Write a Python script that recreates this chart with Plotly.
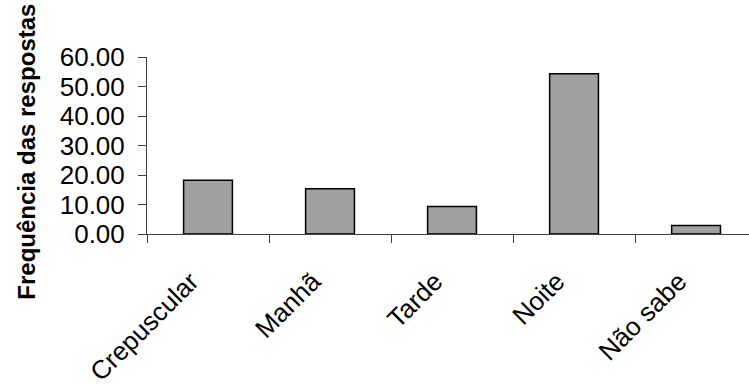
import plotly.graph_objects as go

# Período de atividade indicado nas respostas (%)
categorias = ["Crepuscular", "Manhã", "Tarde", "Noite", "Não sabe"]
frequencias = [18.2, 15.3, 9.3, 54.3, 2.9]
y_ticks = [0, 10, 20, 30, 40, 50, 60]

fig = go.Figure(
    go.Bar(
        x=categorias,
        y=frequencias,
        marker=dict(color="#A0A0A0", line=dict(color="#000000", width=1.5)),
    )
)

font_family = "Liberation Sans, Arial, sans-serif"

fig.update_layout(
    width=749,
    height=384,
    margin=dict(l=147, r=0, t=57, b=150),
    paper_bgcolor="white",
    plot_bgcolor="white",
    bargap=0.6,
    showlegend=False,
    font=dict(family=font_family, size=24, color="#000000"),
    xaxis=dict(
        type="category",
        range=[-0.5, 4.434],
        automargin=False,
        showline=True,
        linecolor="#404040",
        linewidth=1,
        ticks="outside",
        tickson="boundaries",
        ticklen=8,
        tickcolor="#404040",
        tickangle=-45,
        ticklabelstandoff=21,
        ticklabelshift=-17,
        showgrid=False,
        zeroline=False,
        tickfont=dict(size=26),
    ),
    yaxis=dict(
        range=[0, 60],
        tickvals=y_ticks,
        tickformat=".2f",
        automargin=False,
        showline=True,
        linecolor="#404040",
        linewidth=1,
        ticks="outside",
        ticklen=8,
        tickcolor="#404040",
        ticklabelstandoff=8,
        showgrid=False,
        zeroline=False,
        tickfont=dict(size=26),
    ),
    annotations=[
        dict(
            text="<b>Frequência das respostas</b>",
            textangle=-90,
            xref="paper",
            yref="paper",
            x=(27 - 147) / 602,
            y=(234.3 - 152) / 177,
            xanchor="center",
            yanchor="middle",
            showarrow=False,
            font=dict(family=font_family, size=24, color="#000000"),
        )
    ],
)

fig.write_html("out.html")
